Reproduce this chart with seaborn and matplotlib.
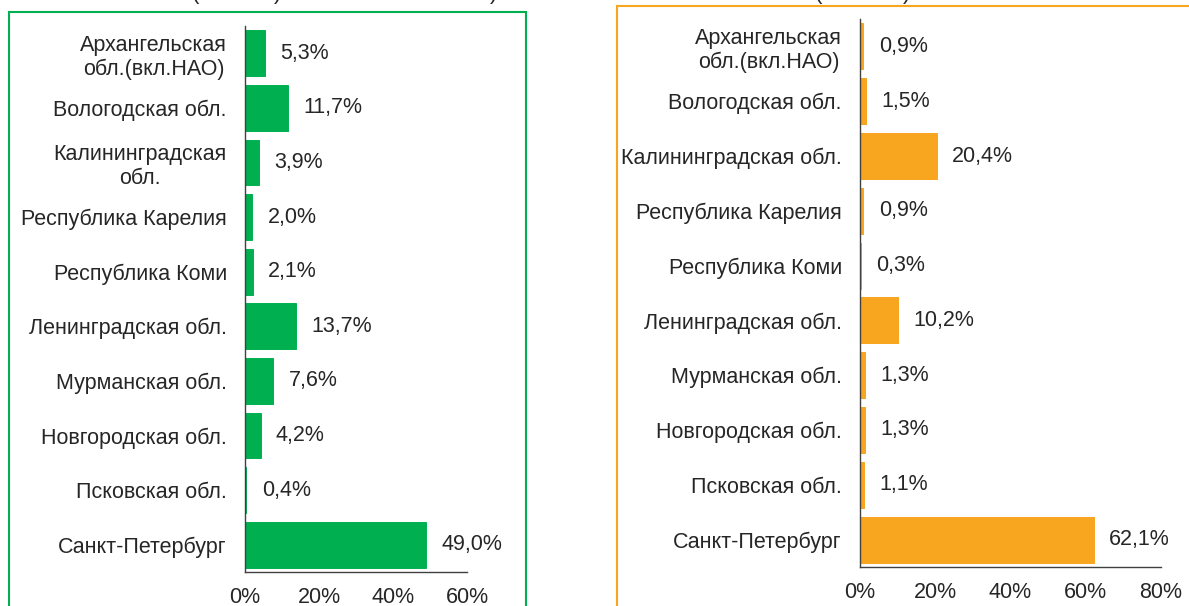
import numpy as np
import pandas as pd
import seaborn as sns
import matplotlib.pyplot as plt
from matplotlib.patches import Rectangle
from matplotlib.ticker import FixedLocator, PercentFormatter

regions_left = [
    "Архангельская\nобл.(вкл.НАО)", "Вологодская обл.", "Калининградская\nобл.",
    "Республика Карелия", "Республика Коми", "Ленинградская обл.",
    "Мурманская обл.", "Новгородская обл.", "Псковская обл.", "Санкт-Петербург",
]
regions_right = [
    "Архангельская\nобл.(вкл.НАО)", "Вологодская обл.", "Калининградская обл.",
    "Республика Карелия", "Республика Коми", "Ленинградская обл.",
    "Мурманская обл.", "Новгородская обл.", "Псковская обл.", "Санкт-Петербург",
]
share_left = [5.3, 11.7, 3.9, 2.0, 2.1, 13.7, 7.6, 4.2, 0.4, 49.0]
share_right = [0.9, 1.5, 20.4, 0.9, 0.3, 10.2, 1.3, 1.3, 1.1, 62.1]
xticks_left = [0, 20, 40, 60]
xticks_right = [0, 20, 40, 60, 80]

GREEN = "#00B050"
ORANGE = "#F8A51F"
FS = 15.5

sns.set_style("white")
plt.rcParams["font.family"] = ["Liberation Sans", "DejaVu Sans"]

W, H = 1189, 606
fig = plt.figure(figsize=(W / 100, H / 100), dpi=100)


def px_axes(x0, y0, x1, y1):
    return fig.add_axes([x0 / W, 1 - y1 / H, (x1 - x0) / W, (y1 - y0) / H])


def draw_panel(ax, cats, vals, color, xticks):
    df = pd.DataFrame({"region": cats, "share": vals})
    # thin edge in the bar colour keeps the tiny shares visible
    sns.barplot(data=df, y="region", x="share", orient="h", color=color,
                saturation=1, width=0.84, edgecolor=color, linewidth=0.7, ax=ax)
    ax.set_xlim(xticks[0], xticks[-1])
    ax.set_ylim(len(cats) - 0.5, -0.5)
    ax.xaxis.set_major_locator(FixedLocator(xticks))
    ax.xaxis.set_major_formatter(PercentFormatter(decimals=0))
    ax.set_xlabel("")
    ax.set_ylabel("")
    for s in ["top", "right"]:
        ax.spines[s].set_visible(False)
    for s in ["left", "bottom"]:
        ax.spines[s].set_color("#404040")
        ax.spines[s].set_linewidth(1.0)
    ax.tick_params(axis="y", which="major", length=0, pad=13, labelsize=FS)
    ax.set_yticks(np.arange(len(cats) + 1) - 0.5, minor=True)
    ax.tick_params(axis="y", which="minor", length=5, direction="out",
                   color="#404040", width=1)
    ax.tick_params(axis="x", which="major", length=5, direction="out",
                   color="#404040", width=1, labelsize=FS, pad=6)
    for lab in ax.get_yticklabels():
        lab.set_multialignment("center")
    labels = [f"{v:.1f}%".replace(".", ",") for v in vals]
    ax.bar_label(ax.containers[0], labels=labels, padding=11, fontsize=FS)


ax1 = px_axes(245, 26, 467, 572)
draw_panel(ax1, regions_left, share_left, GREEN, xticks_left)
ax2 = px_axes(860, 19, 1161, 567)
draw_panel(ax2, regions_right, share_right, ORANGE, xticks_right)

# frames around the panels
fig.patches.append(Rectangle((9 / W, -0.1), (526 - 9) / W, 0.1 + 1 - 12 / H,
                             transform=fig.transFigure, fill=False,
                             edgecolor=GREEN, linewidth=1.5))
fig.patches.append(Rectangle((617 / W, -0.1), 0.5, 0.1 + 1 - 6 / H,
                             transform=fig.transFigure, fill=False,
                             edgecolor=ORANGE, linewidth=1.5))

# cut-off title remnants at the top edge, as in the source image
for x, ch in [(192, "("), (274, ")"), (490, ")"), (815, "("), (903, ")")]:
    fig.text(x / W, 1 + 1.5 / H, ch, fontsize=16, va="baseline", ha="left")

fig.savefig("out.png", dpi=100)
